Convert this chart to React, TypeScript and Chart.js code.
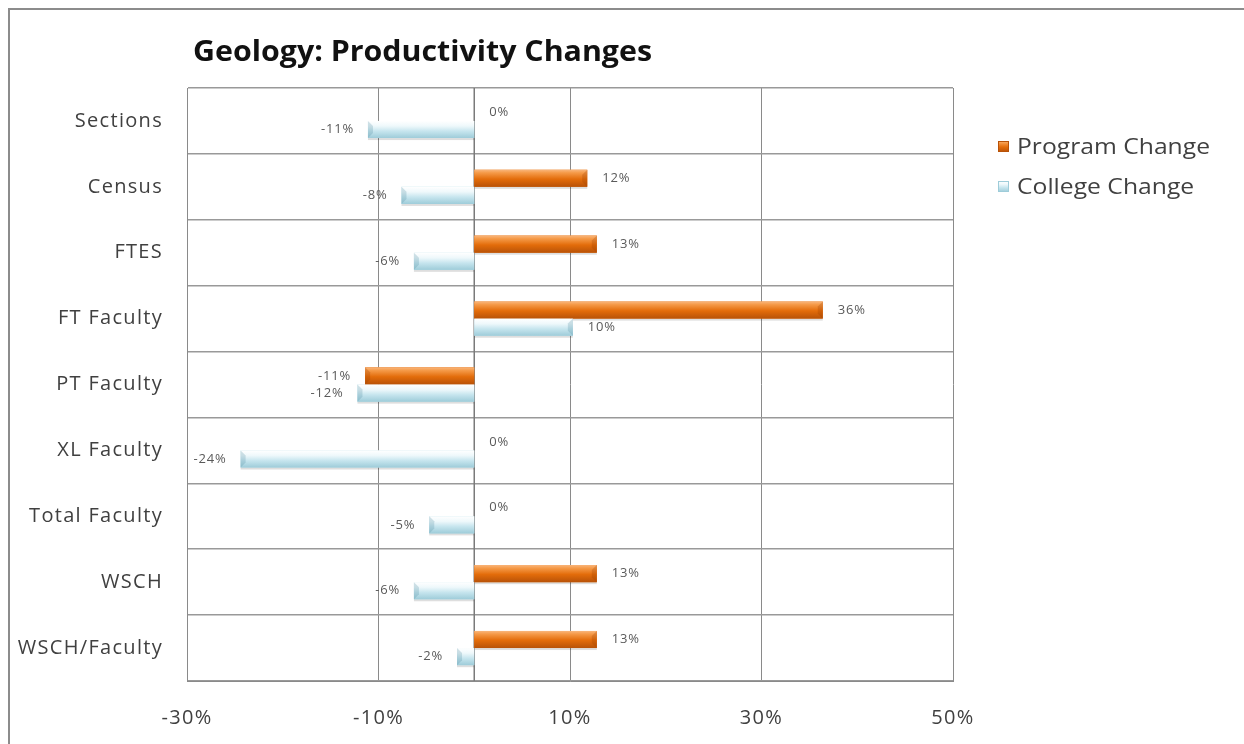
import { useEffect, useRef } from 'react';
import { Chart, registerables } from 'chart.js';

Chart.register(...registerables);

const chartTitle = 'Geology: Productivity Changes';
const categories = ['Sections', 'Census', 'FTES', 'FT Faculty', 'PT Faculty', 'XL Faculty', 'Total Faculty', 'WSCH', 'WSCH/Faculty'];
const seriesNames = ['Program Change', 'College Change'];
const programChange = [0, 11.8, 12.8, 36.4, -11.4, 0, 0, 12.8, 12.8];
const collegeChange = [-11.1, -7.6, -6.3, 10.3, -12.2, -24.4, -4.7, -6.3, -1.8];
const xMin = -30;
const xMax = 50;
const xStep = 20;

const FONT = '"Open Sans", Lato, sans-serif';
const GRID = '#8a8a8a';
const TEXT = '#404040';

const palettes = [
  { solid: '#E46C0A', stops: [[0, '#F9B67C'], [0.18, '#F59A48'], [0.55, '#E36C0A'], [1, '#B85208']] },
  { solid: '#B7DEE8', stops: [[0, '#FFFFFF'], [0.3, '#EEF8FB'], [0.6, '#C6E5EE'], [1, '#9ECCD9']] },
];

const setSpacing = (chart: any) => {
  try { chart.ctx.letterSpacing = '1.3px'; } catch (e) { /* ignore */ }
};

const decorPlugin = {
  id: 'decor',
  beforeUpdate: setSpacing,
  beforeDraw: setSpacing,
  beforeDatasetsDraw(chart: any) {
    const { ctx, chartArea, scales } = chart;
    const x0 = scales.x.getPixelForValue(0);
    ctx.save();
    ctx.strokeStyle = '#7a7a7a';
    ctx.lineWidth = 1.5;
    ctx.beginPath();
    ctx.moveTo(x0, chartArea.top);
    ctx.lineTo(x0, chartArea.bottom);
    ctx.stroke();
    ctx.restore();
  },
  afterDatasetsDraw(chart: any) {
    const { ctx } = chart;
    ctx.save();
    chart.data.datasets.forEach((ds: any, di: number) => {
      const meta = chart.getDatasetMeta(di);
      const pal = palettes[di];
      meta.data.forEach((el: any, i: number) => {
        const p = el.getProps(['x', 'y', 'base', 'height'], true);
        const l = Math.min(p.x, p.base);
        const r = Math.max(p.x, p.base);
        const t = p.y - p.height / 2;
        const b = p.y + p.height / 2;
        if (r - l > 0.5) {
          ctx.fillStyle = 'rgba(0,0,0,0.13)';
          ctx.fillRect(l, b, r - l, 2);
          const g = ctx.createLinearGradient(0, t, 0, b);
          pal.stops.forEach((s: any) => g.addColorStop(s[0], s[1]));
          ctx.fillStyle = g;
          ctx.fillRect(l, t, r - l, b - t);
          const bev = Math.min(5, (r - l) / 2);
          const outer = p.x >= p.base ? r : l;
          const dir = p.x >= p.base ? -1 : 1;
          ctx.fillStyle = di === 0 ? 'rgba(150,60,0,0.25)' : 'rgba(80,140,160,0.25)';
          ctx.beginPath();
          ctx.moveTo(outer, t);
          ctx.lineTo(outer + dir * bev, t + bev);
          ctx.lineTo(outer + dir * bev, b - bev);
          ctx.lineTo(outer, b);
          ctx.closePath();
          ctx.fill();
        }
        const v = ds.data[i];
        const label = Math.round(v) + '%';
        ctx.font = `13px ${FONT}`;
        try { ctx.letterSpacing = '0.8px'; } catch (e) { /* ignore */ }
        ctx.fillStyle = '#5a5a5a';
        ctx.textBaseline = 'middle';
        if (v >= 0) {
          ctx.textAlign = 'left';
          ctx.fillText(label, p.x + 15, p.y);
        } else {
          ctx.textAlign = 'right';
          ctx.fillText(label, p.x - 14, p.y);
        }
      });
    });
    ctx.restore();
  },
  afterDraw(chart: any) {
    const { ctx } = chart;
    ctx.save();
    try { ctx.letterSpacing = '0px'; } catch (e) { /* ignore */ }
    ctx.font = `bold 28px ${FONT}`;
    ctx.fillStyle = '#111';
    ctx.textAlign = 'left';
    ctx.textBaseline = 'middle';
    const tw = ctx.measureText(chartTitle).width;
    ctx.save();
    ctx.translate(183, 43);
    ctx.scale(459 / tw, 1);
    ctx.fillText(chartTitle, 0, 0);
    ctx.restore();
    ctx.font = `21px ${FONT}`;
    const lw = ctx.measureText(chart.data.datasets[0].label).width;
    const sx = 193 / lw;
    chart.data.datasets.forEach((ds: any, di: number) => {
      const yc = 136 + di * 40;
      const pal = palettes[di];
      const g = ctx.createLinearGradient(0, yc - 5, 0, yc + 6);
      pal.stops.forEach((s: any) => g.addColorStop(s[0], s[1]));
      ctx.fillStyle = g;
      ctx.fillRect(988, yc - 5, 11, 11);
      ctx.strokeStyle = di === 0 ? '#B85208' : '#9ECCD9';
      ctx.lineWidth = 1;
      ctx.strokeRect(988.5, yc - 4.5, 10, 10);
      ctx.fillStyle = TEXT;
      ctx.save();
      ctx.translate(1007, yc + 2);
      ctx.scale(sx, 1);
      ctx.fillText(ds.label, 0, 0);
      ctx.restore();
    });
    ctx.restore();
  },
};

export default function App() {
  const ref = useRef<HTMLCanvasElement>(null);
  useEffect(() => {
    const chart = new Chart(ref.current as HTMLCanvasElement, {
      type: 'bar',
      data: {
        labels: categories,
        datasets: [
          { label: seriesNames[0], data: programChange, backgroundColor: palettes[0].solid, borderWidth: 0, categoryPercentage: 0.52, barPercentage: 1 },
          { label: seriesNames[1], data: collegeChange, backgroundColor: palettes[1].solid, borderWidth: 0, categoryPercentage: 0.52, barPercentage: 1 },
        ],
      },
      options: {
        indexAxis: 'y',
        responsive: false,
        animation: false,
        layout: { padding: { top: 78, right: 291, left: 0, bottom: 0 } },
        plugins: { legend: { display: false }, title: { display: false }, tooltip: { enabled: false } },
        scales: {
          x: {
            type: 'linear',
            min: xMin,
            max: xMax,
            afterFit: (s: any) => { s.height = 63; },
            ticks: {
              stepSize: xStep,
              padding: 25,
              color: TEXT,
              font: { family: FONT, size: 20 },
              callback: (v: any) => v + '%',
            },
            grid: { color: GRID, lineWidth: 1, drawTicks: false },
            border: { color: GRID, width: 1 },
          },
          y: {
            type: 'category',
            afterFit: (s: any) => { s.width = 177; },
            ticks: { padding: 24, color: TEXT, font: { family: FONT, size: 20 } },
            grid: { color: '#999999', lineWidth: 1.5, drawTicks: false, offset: true },
            border: { color: GRID, width: 1 },
          },
        },
      },
      plugins: [decorPlugin],
    } as any);
    return () => chart.destroy();
  }, []);
  return (
    <div style={{ position: 'fixed', left: 8, top: 8, width: 1236, height: 736, boxSizing: 'border-box', borderLeft: '2px solid #8c8c8c', borderTop: '2px solid #8c8c8c', overflow: 'hidden', background: '#fff' }}>
      <canvas ref={ref} width={1234} height={734} style={{ display: 'block' }} />
    </div>
  );
}
